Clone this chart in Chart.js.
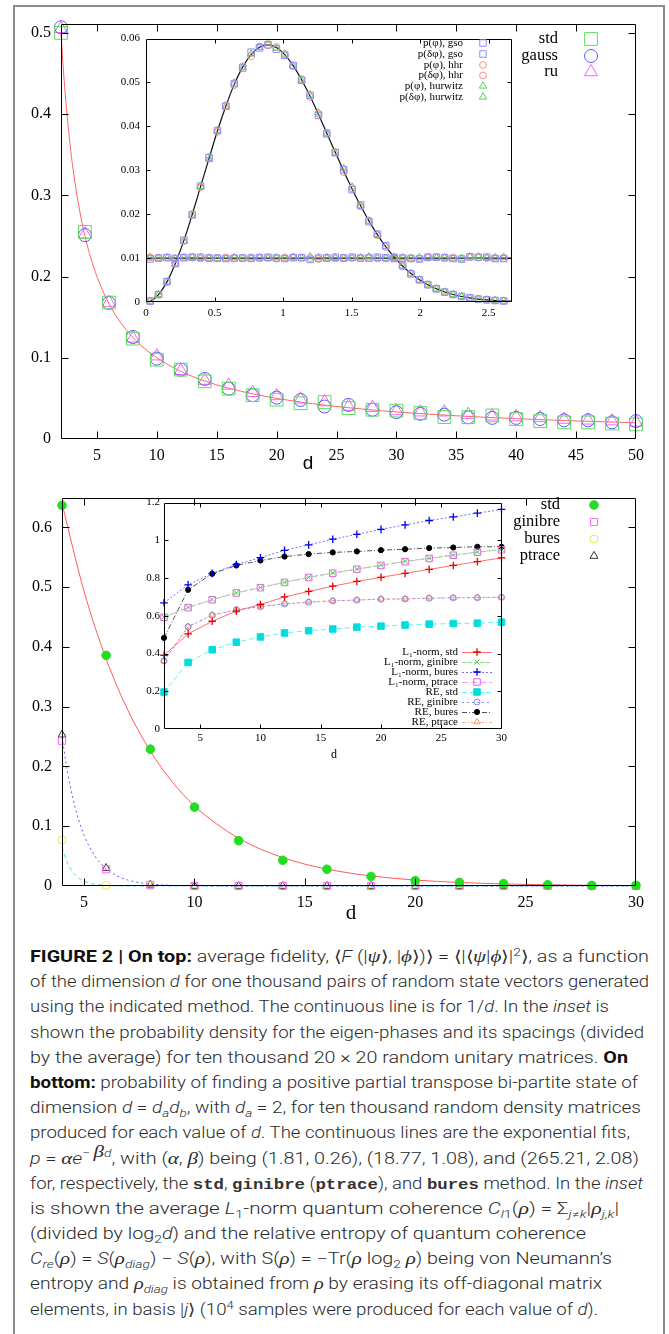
<!DOCTYPE html>
<html><head><meta charset="utf-8">
<script src="https://cdn.jsdelivr.net/npm/chart.js@4.4.1/dist/chart.umd.min.js"></script>
<style>
html,body{margin:0;padding:0;background:#fff;width:669px;height:1334px;overflow:hidden;position:relative;font-family:Roboto,sans-serif}
canvas{position:absolute}
#frame{position:absolute;left:13px;top:5px;width:648px;height:1340px;border:2px solid #8c8c8c;border-bottom:none}
#cap{position:absolute;left:30px;top:944px;font-size:16px;line-height:25.2px;color:#2a2a2a;font-weight:300}
#cap b{font-weight:700;color:#111}
#cap div{white-space:nowrap;height:25.2px}
#cap span.l{display:inline-block;transform-origin:0 50%}
.m{font-family:'Liberation Serif',serif;font-style:italic;font-size:17px}
tt{font-family:'Liberation Mono',monospace;font-size:15px;font-weight:bold;color:#333}
sub,sup{font-size:70%;line-height:0}
</style></head>
<body>
<div id="frame"></div>
<canvas id="c1"></canvas>
<canvas id="c3"></canvas>
<canvas id="c2"></canvas>
<canvas id="c4"></canvas>
<div id="cap">
<div><span class="l" data-w="619"><b>FIGURE 2 | On top:</b> average fidelity, ⟨<i>F</i> (|<span class="m">ψ</span>⟩, |<span class="m">ϕ</span>⟩)⟩ = ⟨|⟨<span class="m">ψ</span>|<span class="m">ϕ</span>⟩|<sup>2</sup>⟩, as a function</span></div>
<div><span class="l" data-w="619">of the dimension <i>d</i> for one thousand pairs of random state vectors generated</span></div>
<div><span class="l" data-w="579">using the indicated method. The continuous line is for 1/<i>d</i>. In the <i>inset</i> is</span></div>
<div><span class="l" data-w="614">shown the probability density for the eigen-phases and its spacings (divided</span></div>
<div><span class="l" data-w="598">by the average) for ten thousand 20 × 20 random unitary matrices. <b>On</b></span></div>
<div><span class="l" data-w="608"><b>bottom:</b> probability of finding a positive partial transpose bi-partite state of</span></div>
<div><span class="l" data-w="611">dimension <i>d</i> = <i>d<sub>a</sub>d<sub>b</sub></i>, with <i>d<sub>a</sub></i> = 2, for ten thousand random density matrices</span></div>
<div><span class="l" data-w="600">produced for each value of <i>d</i>. The continuous lines are the exponential fits,</span></div>
<div><span class="l" data-w="609"><i>p</i> = <span class="m">α</span><i>e</i><sup>− <span class="m">β</span><i>d</i></sup>, with (<span class="m">α</span>, <span class="m">β</span>) being (1.81, 0.26), (18.77, 1.08), and (265.21, 2.08)</span></div>
<div><span class="l" data-w="613">for, respectively, the <tt>std</tt>, <tt>ginibre</tt> (<tt>ptrace</tt>), and <tt>bures</tt> method. In the <i>inset</i></span></div>
<div><span class="l" data-w="589">is shown the average <i>L</i><sub>1</sub>-norm quantum coherence <i>C<sub>l</sub></i><sub>1</sub>(<span class="m">ρ</span>) = Σ<sub><i>j</i>≠<i>k</i></sub>|<span class="m">ρ</span><sub><i>j,k</i></sub>|</span></div>
<div><span class="l" data-w="556">(divided by log<sub>2</sub><i>d</i>) and the relative entropy of quantum coherence</span></div>
<div><span class="l" data-w="582"><i>C<sub>re</sub></i>(<span class="m">ρ</span>) = <i>S</i>(<span class="m">ρ</span><sub><i>diag</i></sub>) − <i>S</i>(<span class="m">ρ</span>), with S(<span class="m">ρ</span>) = −Tr(<span class="m">ρ</span> log<sub>2</sub> <span class="m">ρ</span>) being von Neumann’s</span></div>
<div><span class="l" data-w="572">entropy and <span class="m">ρ</span><sub><i>diag</i></sub> is obtained from <span class="m">ρ</span> by erasing its off-diagonal matrix</span></div>
<div><span class="l" data-w="568">elements, in basis |<i>j</i>⟩ (10<sup>4</sup> samples were produced for each value of <i>d</i>).</span></div>
</div>
<script>
// ================= DATA =================
// --- top panel: average fidelity vs d ---
const fidD     = [2,4,6,8,10,12,14,16,18,20,22,24,26,28,30,32,34,36,38,40,42,44,46,48,50];
const fidStd   = [0.500,0.255,0.168,0.1236,0.0977,0.0854,0.071,0.062,0.054,0.0484,0.044,0.0456,0.038,0.036,0.035,0.032,0.027,0.027,0.029,0.0246,0.022,0.0205,0.0205,0.019,0.018];
const fidGauss = [0.507,0.251,0.1675,0.1256,0.099,0.0854,0.074,0.062,0.054,0.051,0.048,0.040,0.042,0.036,0.033,0.031,0.030,0.0267,0.026,0.026,0.0246,0.023,0.023,0.0205,0.022];
const fidRu    = [0.505,0.252,0.168,0.124,0.102,0.084,0.072,0.066,0.057,0.053,0.049,0.0456,0.040,0.0386,0.0345,0.033,0.033,0.030,0.028,0.027,0.026,0.024,0.023,0.022,0.0205];
const invDx    = [2,2.25,2.5,2.75,3,3.5,4,4.5,5,6,7,8,9,10,12,14,16,18,20,23,26,30,35,40,45,50];
const invDy    = [0.5,0.4444,0.4,0.3636,0.3333,0.2857,0.25,0.2222,0.2,0.1667,0.1429,0.125,0.1111,0.1,0.0833,0.0714,0.0625,0.0556,0.05,0.0435,0.0385,0.0333,0.0286,0.025,0.0222,0.02];
const fidXTicks = [5,10,15,20,25,30,35,40,45,50];
const fidXLabels = ['5','10','15','20','25','30','35','40','45','50'];
const fidYTicks = [0,0.1,0.2,0.3,0.4,0.5];
const fidYLabels = ['0','0.1','0.2','0.3','0.4','0.5'];
const fidNames = ['std','gauss','ru'];

// --- inset 1: eigen-phase densities ---
const phX = [0.030,0.091,0.153,0.214,0.276,0.337,0.398,0.460,0.521,0.583,0.644,0.705,0.767,0.828,0.890,0.951,1.012,1.074,1.135,1.197,1.258,1.319,1.381,1.442,1.504,1.565,1.626,1.688,1.749,1.811,1.872,1.933,1.995,2.056,2.118,2.179,2.240,2.302,2.363,2.425,2.486,2.547,2.609];
const pPhiGso = [0.0098,0.0100,0.0101,0.0099,0.0101,0.0102,0.0102,0.0100,0.0100,0.0099,0.0100,0.0100,0.0100,0.0101,0.0102,0.0100,0.0099,0.0101,0.0101,0.0097,0.0100,0.0100,0.0102,0.0100,0.0102,0.0100,0.0100,0.0102,0.0101,0.0099,0.0100,0.0099,0.0098,0.0102,0.0102,0.0101,0.0099,0.0098,0.0103,0.0102,0.0102,0.0099,0.0099];
const pPhiHhr = [0.0102,0.0101,0.0102,0.0098,0.0102,0.0101,0.0099,0.0101,0.0100,0.0101,0.0100,0.0101,0.0099,0.0100,0.0100,0.0099,0.0101,0.0102,0.0101,0.0100,0.0098,0.0102,0.0099,0.0101,0.0100,0.0100,0.0101,0.0099,0.0099,0.0101,0.0100,0.0100,0.0099,0.0101,0.0102,0.0100,0.0101,0.0099,0.0102,0.0101,0.0100,0.0100,0.0100];
const pPhiHur = [0.0101,0.0100,0.0100,0.0099,0.0100,0.0102,0.0101,0.0100,0.0099,0.0100,0.0101,0.0100,0.0101,0.0101,0.0100,0.0101,0.0100,0.0102,0.0100,0.0103,0.0101,0.0100,0.0101,0.0100,0.0100,0.0101,0.0103,0.0100,0.0100,0.0100,0.0101,0.0100,0.0101,0.0102,0.0101,0.0101,0.0100,0.0100,0.0103,0.0103,0.0101,0.0101,0.0102];
const pDPhiGso = [0.00020,0.00170,0.00465,0.00875,0.01405,0.01985,0.02640,0.03290,0.03905,0.04460,0.04975,0.05330,0.05690,0.05790,0.05860,0.05760,0.05620,0.05390,0.05050,0.04710,0.04250,0.03830,0.03400,0.03010,0.02560,0.02210,0.01830,0.01545,0.01285,0.01010,0.00835,0.00640,0.00505,0.00395,0.00300,0.00225,0.00172,0.00125,0.00095,0.00065,0.00050,0.00035,0.00025];
const pDPhiHhr = [0.00015,0.00165,0.00455,0.00885,0.01390,0.02000,0.02615,0.03300,0.03880,0.04480,0.04940,0.05370,0.05600,0.05820,0.05845,0.05810,0.05640,0.05370,0.05080,0.04670,0.04290,0.03860,0.03420,0.02960,0.02590,0.02180,0.01860,0.01520,0.01250,0.01030,0.00810,0.00655,0.00510,0.00390,0.00305,0.00230,0.00168,0.00128,0.00090,0.00068,0.00047,0.00033,0.00023];
const pDPhiHur = [0.00018,0.00172,0.00460,0.00870,0.01385,0.01975,0.02635,0.03250,0.03910,0.04450,0.04990,0.05340,0.05650,0.05800,0.05900,0.05780,0.05650,0.05370,0.05040,0.04720,0.04310,0.03830,0.03390,0.03040,0.02620,0.02190,0.01840,0.01540,0.01270,0.01020,0.00820,0.00645,0.00505,0.00392,0.00300,0.00228,0.00170,0.00127,0.00092,0.00066,0.00049,0.00034,0.00024];
const wigX = [0,0.030,0.091,0.153,0.214,0.276,0.337,0.398,0.460,0.521,0.583,0.644,0.705,0.767,0.828,0.890,0.951,1.012,1.074,1.135,1.197,1.258,1.319,1.381,1.442,1.504,1.565,1.626,1.688,1.749,1.811,1.872,1.933,1.995,2.056,2.118,2.179,2.240,2.302,2.363,2.425,2.486,2.547,2.609,2.67];
const wigY = [0,0.00018,0.00168,0.00459,0.00877,0.01397,0.01992,0.02628,0.03273,0.03895,0.04465,0.04957,0.05351,0.05636,0.05805,0.05855,0.05795,0.05633,0.05383,0.05061,0.04686,0.04275,0.03845,0.03411,0.02984,0.02575,0.02196,0.01847,0.01535,0.01261,0.01022,0.00820,0.00649,0.00508,0.00393,0.00301,0.00228,0.00170,0.00126,0.00092,0.00067,0.00048,0.00034,0.00024,0.00017];
const flatX = [0,2.67];
const flatY = [0.01,0.01];
const phXTicks = [0,0.5,1,1.5,2,2.5];
const phXLabels = ['0','0.5','1','1.5','2','2.5'];
const phYTicks = [0,0.01,0.02,0.03,0.04,0.05,0.06];
const phYLabels = ['0','0.01','0.02','0.03','0.04','0.05','0.06'];
const phNames = ['p(φ), gso','p(δφ), gso','p(φ), hhr','p(δφ), hhr','p(φ), hurwitz','p(δφ), hurwitz'];

// --- bottom panel: PPT probability vs d ---
const pptD   = [4,6,8,10,12,14,16,18,20,22,24,26,28,30];
const pptStd = [0.637,0.386,0.229,0.132,0.076,0.043,0.028,0.016,0.009,0.006,0.004,0.002,0.001,0.001];
const pptGin = [0.243,0.028,0.002,0,0,0,0,0,0,0,0,0,0,0];
const pptBur = [0.077,0.001,0,0,0,0,0,0,0,0,0,0,0,0];
const pptPtr = [0.253,0.030,0.002,0,0,0,0,0,0,0,0,0,0,0];
const fitStdX = [4,5,6,7,8,9,10,11,12,13,14,15,16,17,18,19,20,21,22,23,24,25,26,27,28,29,30];
const fitStdY = [0.640,0.493,0.380,0.293,0.226,0.174,0.134,0.104,0.080,0.0616,0.0475,0.0366,0.0283,0.0218,0.0168,0.0129,0.0100,0.0077,0.0059,0.0046,0.0035,0.0027,0.0021,0.0016,0.0012,0.0010,0.0007];
const fitGinX = [4,4.25,4.5,4.75,5,5.5,6,6.5,7,7.5,8,9,10,12,30];
const fitGinY = [0.2497,0.1906,0.1455,0.1111,0.0848,0.0494,0.0289,0.0168,0.0098,0.0057,0.0033,0.0011,0.0004,0,0];
const fitBurX = [4,4.25,4.5,4.75,5,5.25,5.5,6,7,8,30];
const fitBurY = [0.0647,0.0384,0.0228,0.0136,0.0081,0.0048,0.0029,0.0010,0.0001,0,0];
const pptXTicks = [5,10,15,20,25,30];
const pptXLabels = ['5','10','15','20','25','30'];
const pptYTicks = [0,0.1,0.2,0.3,0.4,0.5,0.6];
const pptYLabels = ['0','0.1','0.2','0.3','0.4','0.5','0.6'];
const pptNames = ['std','ginibre','bures','ptrace'];

// --- inset 2: coherence vs d ---
const cohD  = [2,4,6,8,10,12,14,16,18,20,22,24,26,28,30];
const l1Std = [0.391,0.504,0.571,0.625,0.660,0.700,0.729,0.757,0.782,0.804,0.825,0.846,0.867,0.887,0.907];
const l1Gin = [0.594,0.644,0.686,0.722,0.750,0.778,0.804,0.827,0.848,0.868,0.889,0.905,0.922,0.938,0.952];
const l1Bur = [0.669,0.764,0.825,0.872,0.908,0.947,0.976,1.006,1.032,1.058,1.082,1.105,1.124,1.144,1.164];
const l1Ptr = [0.592,0.643,0.685,0.721,0.749,0.777,0.803,0.826,0.847,0.867,0.887,0.904,0.921,0.937,0.950];
const reStd = [0.196,0.353,0.420,0.460,0.488,0.509,0.521,0.530,0.540,0.545,0.551,0.556,0.559,0.561,0.566];
const reGin = [0.361,0.542,0.603,0.632,0.648,0.663,0.672,0.679,0.683,0.688,0.689,0.693,0.695,0.696,0.698];
const reBur = [0.483,0.738,0.823,0.867,0.893,0.914,0.927,0.936,0.941,0.948,0.953,0.959,0.962,0.966,0.966];
const rePtr = [0.362,0.543,0.604,0.633,0.649,0.664,0.673,0.680,0.684,0.689,0.690,0.694,0.696,0.697,0.699];
const cohXTicks = [5,10,15,20,25,30];
const cohXLabels = ['5','10','15','20','25','30'];
const cohYTicks = [0,0.2,0.4,0.6,0.8,1,1.2];
const cohYLabels = ['0','0.2','0.4','0.6','0.8','1','1.2'];
const cohNames = ['L₁-norm, std','L₁-norm, ginibre','L₁-norm, bures','L₁-norm, ptrace','RE, std','RE, ginibre','RE, bures','RE, ptrace'];

// ================= HELPERS =================
function pts(xs, ys){ return xs.map((x,i)=>({x:x, y:ys[i]})); }
function mDs(xs, ys, st, line){
  const d = {data:pts(xs,ys), showLine:!!line, pointStyle:st.shape, pointRadius:st.r,
    pointBorderColor:st.stroke, pointBackgroundColor:st.fill||'rgba(0,0,0,0)', pointBorderWidth:st.lw||1,
    clip:false, order:0, tension:0};
  if (line){ d.borderColor=line.color; d.borderWidth=line.lw||1; d.borderDash=line.dash||[]; }
  return d;
}
function lDs(xs, ys, ln, smooth){
  return {data:pts(xs,ys), showLine:true, pointRadius:0, borderColor:ln.color, borderWidth:ln.lw||1,
    borderDash:ln.dash||[], cubicInterpolationMode: smooth?'monotone':'default', tension:0, clip:false, order:1};
}
function drawMk(ctx, st, x, y){
  ctx.save(); ctx.beginPath(); ctx.setLineDash([]); ctx.lineWidth = st.lw||1; ctx.strokeStyle = st.stroke;
  const r = st.r;
  if (st.shape==='rect'){ const s=r*Math.SQRT1_2; ctx.rect(x-s,y-s,2*s,2*s); }
  else if (st.shape==='circle'){ ctx.arc(x,y,r,0,2*Math.PI); }
  else if (st.shape==='triangle'){ for(let k=0;k<3;k++){ const a=k*2*Math.PI/3; const px=x+Math.sin(a)*r, py=y-Math.cos(a)*r; if(k) ctx.lineTo(px,py); else ctx.moveTo(px,py);} ctx.closePath(); }
  else if (st.shape==='cross'){ ctx.moveTo(x-r,y); ctx.lineTo(x+r,y); ctx.moveTo(x,y-r); ctx.lineTo(x,y+r); }
  else if (st.shape==='crossRot'){ const s=r*Math.SQRT1_2; ctx.moveTo(x-s,y-s); ctx.lineTo(x+s,y+s); ctx.moveTo(x-s,y+s); ctx.lineTo(x+s,y-s); }
  if (st.fill){ ctx.fillStyle=st.fill; ctx.fill(); }
  ctx.stroke(); ctx.restore();
}
const gp = {
  id:'gp',
  afterDatasetsDraw(chart, args, o){
    const ctx=chart.ctx, a=chart.chartArea, xs=chart.scales.x, ys=chart.scales.y;
    ctx.save(); ctx.strokeStyle='#000'; ctx.lineWidth=1; ctx.setLineDash([]);
    const L=Math.round(a.left)+0.5, R=Math.round(a.right)-0.5, T=Math.round(a.top)+0.5, B=Math.round(a.bottom)-0.5;
    ctx.beginPath(); ctx.rect(L,T,R-L,B-T);
    const tl=o.tl;
    xs.ticks.forEach(t=>{ const p=Math.round(xs.getPixelForValue(t.value))+0.5; if(p>L+1&&p<R-1){ ctx.moveTo(p,B); ctx.lineTo(p,B-tl); ctx.moveTo(p,T); ctx.lineTo(p,T+tl);} });
    ys.ticks.forEach(t=>{ const p=Math.round(ys.getPixelForValue(t.value))+0.5; if(p>T+1&&p<B-1){ ctx.moveTo(L,p); ctx.lineTo(L+tl,p); ctx.moveTo(R,p); ctx.lineTo(R-tl,p);} });
    ctx.stroke(); ctx.restore();
  },
  afterDraw(chart, args, o){
    const ctx=chart.ctx, ox=o.ox, oy=o.oy;
    ctx.save(); ctx.fillStyle='#000'; ctx.textBaseline='middle';
    (o.texts||[]).forEach(t=>{ ctx.font=t.font; ctx.textAlign='center'; ctx.fillText(t.t, t.x-ox, t.y-oy); });
    (o.legend||[]).forEach(it=>{
      ctx.font=it.font; ctx.textAlign='right'; ctx.fillStyle='#000'; ctx.fillText(it.t, it.tx-ox, it.ty-oy);
      if (it.line){ ctx.save(); ctx.beginPath(); ctx.strokeStyle=it.line.color; ctx.lineWidth=it.line.lw||1; ctx.setLineDash(it.line.dash||[]);
        ctx.moveTo(it.line.x1-ox, it.ty-oy+0.5); ctx.lineTo(it.line.x2-ox, it.ty-oy+0.5); ctx.stroke(); ctx.restore(); }
      drawMk(ctx, it.mk, it.mx-ox, it.ty-oy);
    });
    ctx.restore();
  }
};
function scales(c){
  const font={family:'Liberation Serif', size:c.fs};
  const grid={display:false, drawTicks:false, tickLength:0};
  return {
    x:{type:'linear', min:c.xr[0], max:c.xr[1], grid:grid, border:{display:false},
       afterBuildTicks:s=>{ s.ticks=c.xt.map(v=>({value:v})); },
       afterFit:s=>{ s.height=c.xh; },
       ticks:{font:font, color:'#000', padding:c.xp, maxRotation:0, minRotation:0, autoSkip:false, callback:(v,i)=>c.xl[i]}},
    y:{type:'linear', min:c.yr[0], max:c.yr[1], grid:grid, border:{display:false},
       afterBuildTicks:s=>{ s.ticks=c.yt.map(v=>({value:v})); },
       afterFit:s=>{ s.width=c.yw; },
       ticks:{font:font, color:'#000', padding:c.yp, autoSkip:false, callback:(v,i)=>c.yl[i]}}
  };
}
function makeChart(id, box, datasets, c, plug){
  const cv=document.getElementById(id);
  cv.width=box.w; cv.height=box.h; cv.style.width=box.w+'px'; cv.style.height=box.h+'px';
  cv.style.left=box.x+'px'; cv.style.top=box.y+'px';
  plug.ox=box.x; plug.oy=box.y;
  return new Chart(cv, {type:'scatter', data:{datasets:datasets},
    options:{responsive:false, animation:false, events:[], devicePixelRatio:1,
      layout:{padding:c.pad}, scales:scales(c),
      plugins:{legend:{display:false}, tooltip:{enabled:false}, gp:plug}},
    plugins:[gp]});
}

// ================= TOP PANEL =================
const sStd={shape:'rect', r:9, stroke:'#5cdc5c'};
const sGau={shape:'circle', r:6.5, stroke:'#5a5aff'};
const sRu ={shape:'triangle', r:7.5, stroke:'#ff5cff'};
makeChart('c1', {x:0,y:0,w:669,h:478}, [
  mDs(fidD, fidStd, sStd), mDs(fidD, fidGauss, sGau), mDs(fidD, fidRu, sRu),
  lDs(invDx, invDy, {color:'#ff6666', lw:1}, true)
], {xr:[2,50], yr:[0,0.511], xt:fidXTicks, xl:fidXLabels, yt:fidYTicks, yl:fidYLabels,
    pad:{left:0,top:24,right:33,bottom:0}, xh:39, yw:61, xp:7, yp:10, fs:16},
  {tl:7, texts:[{t:'d', x:308, y:464, font:'19px "Liberation Sans"'}],
   legend:[sStd,sGau,sRu].map((s,i)=>({t:fidNames[i], tx:558, ty:[39,56,72][i], mx:591, mk:s, font:'16.5px "Liberation Serif"'}))});

// ================= INSET 1 =================
const sGso={shape:'rect', r:4.6, stroke:'#8c8cff'};
const sHhr={shape:'circle', r:3.4, stroke:'#ff8a8a'};
const sHur={shape:'triangle', r:4.2, stroke:'#55d255'};
makeChart('c2', {x:100,y:26,w:420,h:300}, [
  mDs(phX, pPhiGso, sGso), mDs(phX, pDPhiGso, sGso),
  mDs(phX, pPhiHhr, sHhr), mDs(phX, pDPhiHhr, sHhr),
  mDs(phX, pPhiHur, sHur), mDs(phX, pDPhiHur, sHur),
  lDs(wigX, wigY, {color:'#111', lw:1.2}, true),
  lDs(flatX, flatY, {color:'#111', lw:1.2}, false)
], {xr:[0,2.67], yr:[0,0.06], xt:phXTicks, xl:phXLabels, yt:phYTicks, yl:phYLabels,
    pad:{left:0,top:7,right:8,bottom:0}, xh:24, yw:46, xp:5, yp:6, fs:11},
  {tl:4, legend:[sGso,sGso,sHhr,sHhr,sHur,sHur].map((s,i)=>({t:phNames[i], tx:463, ty:[43,54,65,75.5,86,97][i], mx:483, mk:s, font:'11px "Liberation Serif"'}))});

// ================= BOTTOM PANEL =================
const bStd={shape:'circle', r:4.3, stroke:'#22dd22', fill:'#22dd22'};
const bGin={shape:'rect', r:5, stroke:'#ff66ff'};
const bBur={shape:'circle', r:4, stroke:'#e8e84a'};
const bPtr={shape:'triangle', r:4.6, stroke:'#333333'};
makeChart('c3', {x:0,y:478,w:669,h:452}, [
  mDs(pptD, pptStd, bStd), mDs(pptD, pptGin, bGin), mDs(pptD, pptBur, bBur), mDs(pptD, pptPtr, bPtr),
  lDs(fitStdX, fitStdY, {color:'#ff5a5a', lw:1}, true),
  lDs(fitGinX, fitGinY, {color:'#5a5aff', lw:1, dash:[2,3]}, true),
  lDs(fitBurX, fitBurY, {color:'#55dddd', lw:1, dash:[4,3]}, true)
], {xr:[4,30], yr:[0,0.65], xt:pptXTicks, xl:pptXLabels, yt:pptYTicks, yl:pptYLabels,
    pad:{left:0,top:13,right:33,bottom:0}, xh:44, yw:62, xp:7, yp:10, fs:16},
  {tl:7, texts:[{t:'d', x:351, y:913, font:'21px "Liberation Serif"'}],
   legend:[bStd,bGin,bBur,bPtr].map((s,i)=>({t:pptNames[i], tx:560, ty:[505,522,539,556][i], mx:594, mk:s, font:'16.5px "Liberation Serif"'}))});

// ================= INSET 2 =================
const cSt = [
  {mk:{shape:'cross', r:3.8, stroke:'#ee0000', lw:1.3}, ln:{color:'#ff7070', lw:1}},
  {mk:{shape:'crossRot', r:3.5, stroke:'#55cc55'}, ln:{color:'#88dd88', lw:1, dash:[4,2]}},
  {mk:{shape:'cross', r:3.8, stroke:'#0000ee', lw:1.3}, ln:{color:'#7070ff', lw:1, dash:[2,2]}},
  {mk:{shape:'rect', r:4.6, stroke:'#dd66dd'}, ln:{color:'#ff99ff', lw:1, dash:[6,3]}},
  {mk:{shape:'rect', r:4.6, stroke:'#00dddd', fill:'#00dddd'}, ln:{color:'#66eeee', lw:1, dash:[5,3]}},
  {mk:{shape:'circle', r:3, stroke:'#8888dd'}, ln:{color:'#8a8aff', lw:1, dash:[2,3]}},
  {mk:{shape:'circle', r:2.6, stroke:'#000', fill:'#000'}, ln:{color:'#555', lw:1, dash:[5,2,1,2]}},
  {mk:{shape:'triangle', r:3.6, stroke:'#ff9966'}, ln:{color:'#ffb090', lw:1, dash:[4,2,1,2]}}
];
const cohSeries = [l1Std,l1Gin,l1Bur,l1Ptr,reStd,reGin,reBur,rePtr];
makeChart('c4', {x:110,y:492,w:400,h:272},
  cohSeries.map((ys,i)=>mDs(cohD, ys, cSt[i].mk, cSt[i].ln)),
  {xr:[2,30], yr:[0,1.2], xt:cohXTicks, xl:cohXLabels, yt:cohYTicks, yl:cohYLabels,
    pad:{left:0,top:7,right:7,bottom:0}, xh:35, yw:54, xp:3, yp:4, fs:11},
  {tl:4, texts:[{t:'d', x:334, y:755, font:'12px "Liberation Serif"'}],
   legend:cSt.map((s,i)=>({t:cohNames[i], tx:458, ty:652+10*i, mx:477, mk:s.mk, line:{x1:462,x2:492,color:s.ln.color,dash:s.ln.dash,lw:1}, font:'11px "Liberation Serif"'}))});

// ================= CAPTION FIT =================
function fitCap(){
  document.querySelectorAll('#cap .l').forEach(s=>{
    s.style.transform='none';
    const w=s.getBoundingClientRect().width, t=+s.dataset.w;
    if (w>0) s.style.transform='scaleX('+(t/w).toFixed(4)+')';
  });
}
fitCap();
if (document.fonts && document.fonts.ready) document.fonts.ready.then(fitCap);
</script>
</body></html>
